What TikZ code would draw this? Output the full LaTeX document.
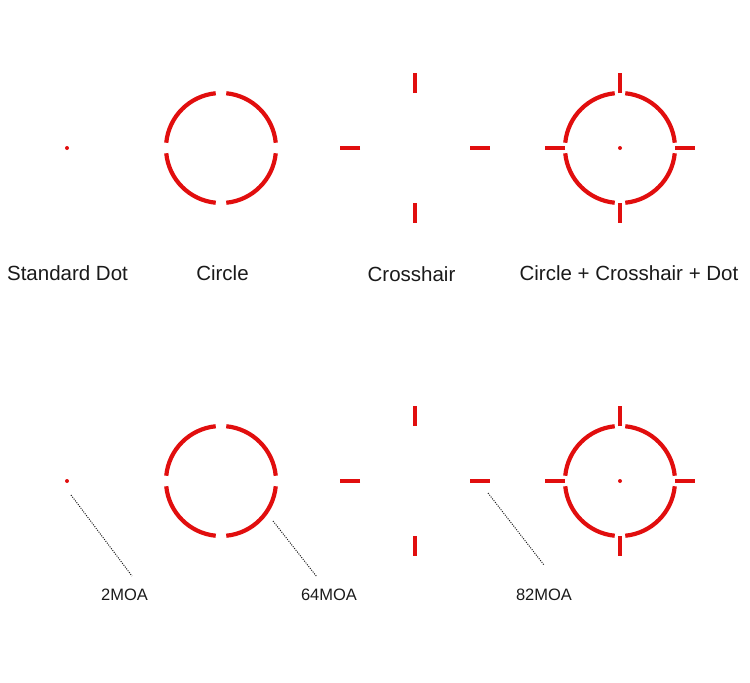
\documentclass[tikz,border=0pt]{standalone}
\usepackage{fontspec}
\setmainfont{Liberation Sans}
\usepackage{xcolor}
\usepackage{tikz}
\usetikzlibrary{positioning,calc}
\definecolor{RDSred}{HTML}{E10E0E}
\definecolor{RDSink}{HTML}{1A1A1A}
\tikzset{
  rdsline/.style={draw=RDSred, line width=4.2pt},
  rdsdot/.style={fill=RDSred, draw=none},
  leader/.style={draw=RDSink, line width=1pt, dash pattern=on 1pt off 1.3pt},
  typelabel/.style={font=\fontsize{20.5}{24}\selectfont, text=RDSink, anchor=base, inner sep=0pt},
  moalabel/.style={font=\fontsize{16.5}{20}\selectfont, text=RDSink, anchor=base, inner sep=0pt},
  centredot/.pic={\fill[rdsdot] (0,0) circle (2);},
  ringsight/.pic={
    \draw[rdsline] (5.5:55) arc[start angle=5.5, end angle=84.5, radius=55];
    \draw[rdsline] (95.5:55) arc[start angle=95.5, end angle=174.5, radius=55];
    \draw[rdsline] (185.5:55) arc[start angle=185.5, end angle=264.5, radius=55];
    \draw[rdsline] (275.5:55) arc[start angle=275.5, end angle=354.5, radius=55];
  },
  crossbars/.pic={
    \draw[rdsline] (55,0) -- (75,0);
    \draw[rdsline] (-55,0) -- (-75,0);
    \draw[rdsline] (0,55) -- (0,75);
    \draw[rdsline] (0,-55) -- (0,-75);
  }
}

\begin{document}
\begin{tikzpicture}[x=1pt, y=-1pt]
\useasboundingbox (0,0) rectangle (750,683);
% reticle centres
\coordinate (dotA) at (67,148);
\coordinate (ringA) at (221,148);
\coordinate (crossA) at (415,148);
\coordinate (fullA) at (620,148);
\coordinate (dotB) at (67,481);
\coordinate (ringB) at (221,481);
\coordinate (crossB) at (415,481);
\coordinate (fullB) at (620,481);
% top row
\pic at (dotA) {centredot};
\pic at (ringA) {ringsight};
\pic at (crossA) {crossbars};
\pic at (fullA) {ringsight};
\pic at (fullA) {crossbars};
\pic at (fullA) {centredot};
\node[typelabel] (dotlbl) at (67.5,280) {Standard Dot};
\node[typelabel] (ringlbl) at (222.5,280) {Circle};
\node[typelabel] (crosslbl) at (411.5,281) {Crosshair};
\node[typelabel] (fulllbl) at (629,280) {Circle + Crosshair + Dot};
% bottom row
\pic at (dotB) {centredot};
\pic at (ringB) {ringsight};
\pic at (crossB) {crossbars};
\pic at (fullB) {ringsight};
\pic at (fullB) {crossbars};
\pic at (fullB) {centredot};
\node[moalabel] (moa2) at (124.5,600) {2MOA};
\node[moalabel] (moa64) at (329,600) {64MOA};
\node[moalabel] (moa82) at (544,600) {82MOA};
% leaders
\coordinate (dotlead) at (71,495);
\coordinate (ringlead) at (273,521);
\coordinate (crosslead) at (488,493);
\coordinate (moa2tip) at (132,576);
\coordinate (moa64tip) at (317,577);
\coordinate (moa82tip) at (544,565);
\draw[leader] (dotlead) -- (moa2tip);
\draw[leader] (ringlead) -- (moa64tip);
\draw[leader] (crosslead) -- (moa82tip);
\end{tikzpicture}
\end{document}
